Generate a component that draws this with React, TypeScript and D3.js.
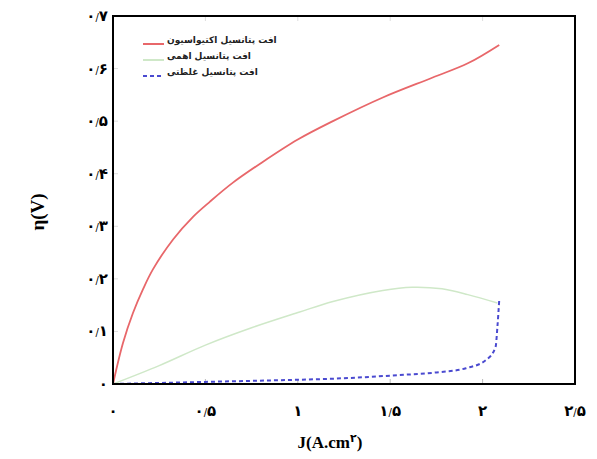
import React, { useEffect, useRef } from 'react';
import * as d3 from 'd3';

// activation loss
const actJ = [0, 0.054, 0.108, 0.162, 0.216, 0.325, 0.433, 0.525, 0.649, 0.8, 1.0, 1.19, 1.46, 1.73, 1.92, 2.09];
const actEta = [0, 0.078, 0.135, 0.18, 0.218, 0.275, 0.318, 0.347, 0.383, 0.42, 0.465, 0.5, 0.545, 0.583, 0.61, 0.645];

// ohmic loss
const ohmJ = [0, 0.25, 0.5, 0.75, 1.01, 1.19, 1.46, 1.62, 1.78, 1.92, 2.08];
const ohmEta = [0, 0.035, 0.074, 0.107, 0.137, 0.157, 0.178, 0.184, 0.181, 0.17, 0.154];

// concentration loss
const conJ = [0, 0.25, 0.5, 0.75, 1.0, 1.25, 1.55, 1.75, 1.91, 2.02, 2.07, 2.08, 2.09];
const conEta = [0, 0.002, 0.004, 0.006, 0.008, 0.011, 0.017, 0.022, 0.03, 0.046, 0.07, 0.108, 0.16];

const legendLabels = ['افت پتانسیل اکتیواسیون', 'افت پتانسیل اهمی', 'افت پتانسیل غلظتی'];
const xTicks = [0, 0.5, 1, 1.5, 2, 2.5];
const yTicks = [0, 0.1, 0.2, 0.3, 0.4, 0.5, 0.6, 0.7];

const faDigits = (s: string) => s.replace(/\d/g, d => '۰۱۲۳۴۵۶۷۸۹'[+d]);

const App = () => {
  const svgRef = useRef<SVGSVGElement>(null);

  useEffect(() => {
    const width = 597, height = 459;
    const m = { left: 113, right: 22, top: 16, bottom: 75 };
    const svg = d3.select(svgRef.current);
    svg.selectAll('*').remove();

    const x = d3.scaleLinear().domain([0, 2.5]).range([m.left, width - m.right]);
    const y = d3.scaleLinear().domain([0, 0.7]).range([height - m.bottom, m.top]);

    const g = svg.append('g');

    // inner ticks
    xTicks.slice(1, -1).forEach(t => {
      g.append('line').attr('x1', x(t)).attr('x2', x(t))
        .attr('y1', y(0)).attr('y2', y(0) - 5).attr('stroke', '#bbb');
      g.append('line').attr('x1', x(t)).attr('x2', x(t))
        .attr('y1', y(0.7)).attr('y2', y(0.7) + 5).attr('stroke', '#ddd');
    });
    yTicks.slice(1, -1).forEach(t => {
      g.append('line').attr('x1', x(0)).attr('x2', x(0) + 5)
        .attr('y1', y(t)).attr('y2', y(t)).attr('stroke', '#ddd');
    });

    const series = [
      { J: ohmJ, eta: ohmEta, color: '#cfe8c8', w: 1.5, dash: null, curve: d3.curveCatmullRom.alpha(0.5) },
      { J: actJ, eta: actEta, color: '#e8676a', w: 1.8, dash: null, curve: d3.curveCatmullRom.alpha(0.5) },
      { J: conJ, eta: conEta, color: '#4a4ad0', w: 2, dash: '4,3', curve: d3.curveMonotoneX },
    ];

    series.forEach(s => {
      const pts = s.J.map((j, i) => [j, s.eta[i]] as [number, number]);
      const line = d3.line<[number, number]>()
        .x(d => x(d[0]))
        .y(d => y(d[1]))
        .curve(s.curve);
      g.append('path')
        .attr('d', line(pts))
        .attr('fill', 'none')
        .attr('stroke', s.color)
        .attr('stroke-width', s.w)
        .attr('stroke-dasharray', s.dash);
    });

    // frame
    g.append('rect')
      .attr('x', x(0)).attr('y', y(0.7))
      .attr('width', x(2.5) - x(0)).attr('height', y(0) - y(0.7))
      .attr('fill', 'none').attr('stroke', '#000').attr('stroke-width', 2);

    // tick labels, Persian digits with a small slash as decimal mark
    const tickLabel = (sel: any, v: number) => {
      const parts = String(+v.toFixed(1)).split('.');
      sel.append('tspan').text(faDigits(parts[0]));
      if (parts[1]) {
        sel.append('tspan').attr('font-size', 10).attr('font-weight', 'normal').text('/');
        sel.append('tspan').text(faDigits(parts[1]));
      }
    };

    xTicks.forEach(t => {
      const tx = g.append('text')
        .attr('x', x(t)).attr('y', 416)
        .attr('text-anchor', 'middle')
        .attr('font-family', 'DejaVu Sans').attr('font-weight', 'bold').attr('font-size', 15);
      tickLabel(tx, t);
    });

    yTicks.forEach(t => {
      const ty = g.append('text')
        .attr('x', 108).attr('y', y(t) + 5)
        .attr('text-anchor', 'end')
        .attr('font-family', 'DejaVu Sans').attr('font-weight', 'bold').attr('font-size', 15);
      tickLabel(ty, t);
    });

    // axis titles
    const xl = g.append('text')
      .attr('x', 330).attr('y', 448)
      .attr('text-anchor', 'middle')
      .attr('font-family', 'Liberation Serif, DejaVu Sans').attr('font-weight', 'bold').attr('font-size', 17);
    xl.append('tspan').text('J(A.cm');
    xl.append('tspan').attr('font-size', 11).attr('dy', -6).text('۲');
    xl.append('tspan').attr('dy', 6).text(')');

    g.append('text')
      .attr('transform', 'translate(44,212) rotate(-90)')
      .attr('text-anchor', 'middle')
      .attr('font-family', 'Liberation Serif, DejaVu Sans').attr('font-weight', 'bold').attr('font-size', 19)
      .text('η(V)');

    // legend
    const legColors = ['#e8676a', '#cfe8c8', '#4a4ad0'];
    const legDash = [null, null, '4,3'];
    legendLabels.forEach((lab, i) => {
      const ly = 44 + i * 16;
      g.append('line').attr('x1', 143).attr('x2', 164).attr('y1', ly).attr('y2', ly)
        .attr('stroke', legColors[i]).attr('stroke-width', 2).attr('stroke-dasharray', legDash[i]);
      g.append('text').attr('x', 167).attr('y', ly - 1)
        .attr('font-family', 'DejaVu Sans').attr('font-weight', 'bold').attr('font-size', 9)
        .attr('fill', '#222')
        .text(lab);
    });
  }, []);

  return (
    <svg ref={svgRef} width={597} height={459}
      style={{ position: 'absolute', left: 0, top: 0, background: '#fff' }} />
  );
};

export default App;
